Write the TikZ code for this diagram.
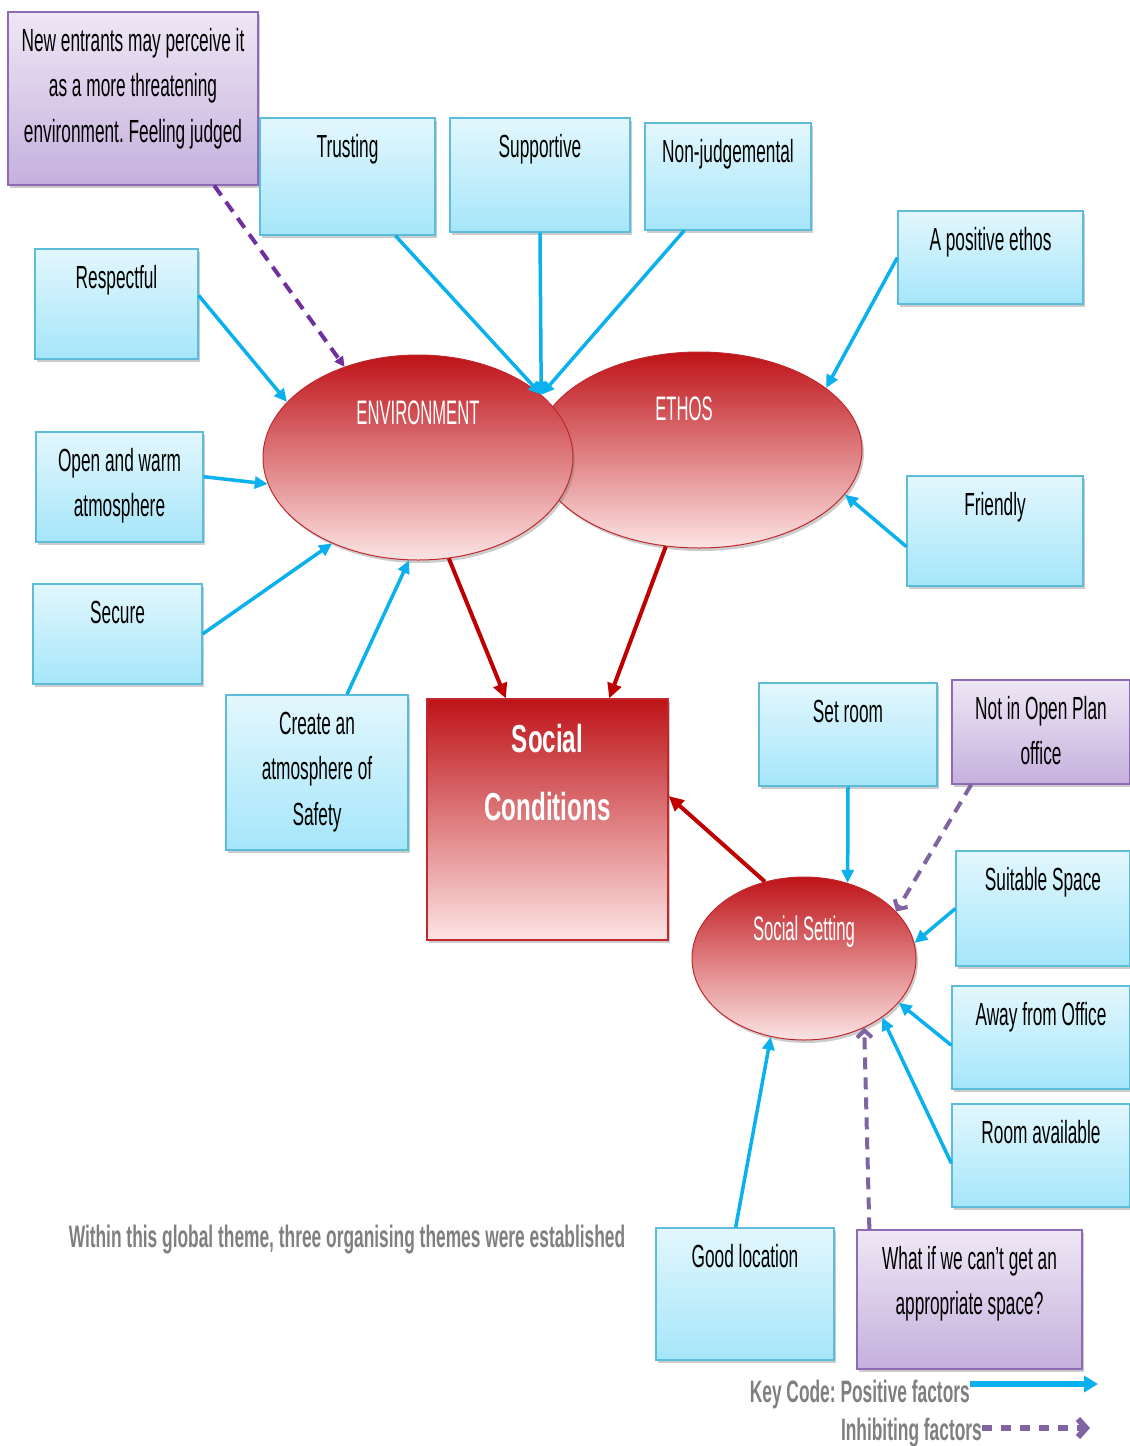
\documentclass[tikz,border=0pt]{standalone}
\usepackage{fontspec}
\setmainfont{Liberation Sans}
\newfontfamily\boxfont[FakeStretch=0.54]{Liberation Sans}
\newfontfamily\ellfont[FakeStretch=0.49]{Liberation Sans}
\newfontfamily\headfont[FakeStretch=0.62]{Liberation Sans}
\newfontfamily\keyfont[FakeStretch=0.56]{Liberation Sans}
\usetikzlibrary{shapes.geometric,shadows,arrows.meta}
\frenchspacing

\definecolor{cyanTop}{HTML}{E3F7FD}
\definecolor{cyanBot}{HTML}{A5E6FA}
\definecolor{cyanEdge}{HTML}{5DBCD8}
\definecolor{purTop}{HTML}{EEE7F5}
\definecolor{purBot}{HTML}{C5B0DD}
\definecolor{purEdge}{HTML}{8E6BB5}
\definecolor{redTop}{HTML}{BE1318}
\definecolor{redMid}{HTML}{DB8A8C}
\definecolor{redBot}{HTML}{FDE4E4}
\definecolor{redEdge}{HTML}{C0282C}
\definecolor{posArrow}{HTML}{0BB0EE}
\definecolor{linkArrow}{HTML}{C00000}
\definecolor{negDark}{HTML}{7030A0}
\definecolor{negLight}{HTML}{8064A2}
\definecolor{keyGray}{HTML}{7F7F7F}

\begin{document}
\begin{tikzpicture}[x=1pt,y=-1pt,
  boxshadow/.style={drop shadow={shadow xshift=2pt,shadow yshift=-3pt,opacity=0.4}},
  cbox/.style={draw=cyanEdge,line width=1.2pt,top color=cyanTop,bottom color=cyanBot,
    inner sep=0pt,boxshadow},
  pbox/.style={draw=purEdge,line width=1.2pt,top color=purTop,bottom color=purBot,
    inner sep=0pt,boxshadow},
  rbox/.style={draw=redEdge,line width=1.2pt,top color=redTop,middle color=redMid,bottom color=redBot,
    inner sep=0pt,boxshadow},
  btext/.style={font=\boxfont\fontsize{32}{45.5}\selectfont,align=center,
    inner sep=0pt,anchor=north,text=black},
  redell/.style={ellipse,draw=redEdge,line width=1pt,top color=redTop,middle color=redMid,bottom color=redBot,
    inner sep=0pt,boxshadow},
  etext/.style={font=\ellfont\fontsize{34}{40}\selectfont,text=white,inner sep=0pt,anchor=base},
  htext/.style={font=\headfont\bfseries\fontsize{39}{45}\selectfont,text=white,inner sep=0pt,anchor=base},
  ktext/.style={font=\keyfont\bfseries\fontsize{31}{36}\selectfont,text=keyGray,inner sep=0pt,anchor=base},
  posarrow/.style={draw=posArrow,line width=3.5pt,-{Triangle[length=13pt,width=12pt]}},
  negarrow/.style={draw=negLight,line width=4pt,dash pattern=on 12pt off 8pt,
    -{Straight Barb[length=7pt,width=15pt]}},
  linkarrow/.style={draw=linkArrow,line width=4pt,-{Triangle[length=15pt,width=14pt]}},
]
\useasboundingbox (0,0) rectangle (1130,1446);

% factor boxes
\node[pbox,minimum width=250,minimum height=173] (newe) at (133,98.5) {};
\node[cbox,minimum width=175,minimum height=117] (trust) at (347.5,176.5) {};
\node[cbox,minimum width=180,minimum height=114] (supp) at (540,175) {};
\node[cbox,minimum width=166,minimum height=107] (nonj) at (728,176.5) {};
\node[cbox,minimum width=185,minimum height=93] (posethos) at (990.5,257.5) {};
\node[cbox,minimum width=163,minimum height=110] (resp) at (116.5,304) {};
\node[cbox,minimum width=167,minimum height=110] (open) at (119.5,487) {};
\node[cbox,minimum width=169,minimum height=100] (secure) at (117.5,634) {};
\node[cbox,minimum width=176,minimum height=110] (friend) at (995,531) {};
\node[cbox,minimum width=182,minimum height=155] (create) at (317,772.5) {};
\node[cbox,minimum width=178,minimum height=103] (setroom) at (848,734.5) {};
\node[pbox,minimum width=178,minimum height=104] (notopen) at (1041,732) {};
\node[cbox,minimum width=174,minimum height=115] (suit) at (1043,908.5) {};
\node[cbox,minimum width=178,minimum height=103] (away) at (1041,1037.5) {};
\node[cbox,minimum width=178,minimum height=103] (room) at (1041,1155.5) {};
\node[cbox,minimum width=178,minimum height=132] (good) at (745,1294) {};
\node[pbox,minimum width=225,minimum height=139] (whatif) at (969.5,1299.5) {};

% box labels
\node[btext] (newe-t) at ([yshift=-8pt]newe.north) {\strut New entrants may perceive it\\as a more threatening\\environment. Feeling judged};
\node[btext] (trust-t) at ([yshift=-8pt]trust.north) {\strut Trusting};
\node[btext] (supp-t) at ([yshift=-8pt]supp.north) {\strut Supportive};
\node[btext] (nonj-t) at ([yshift=-8pt]nonj.north) {\strut Non-judgemental};
\node[btext] (posethos-t) at ([yshift=-8pt]posethos.north) {\strut A positive ethos};
\node[btext] (resp-t) at ([yshift=-8pt]resp.north) {\strut Respectful};
\node[btext] (open-t) at ([yshift=-8pt]open.north) {\strut Open and warm\\atmosphere};
\node[btext] (secure-t) at ([yshift=-8pt]secure.north) {\strut Secure};
\node[btext] (friend-t) at ([yshift=-8pt]friend.north) {\strut Friendly};
\node[btext] (create-t) at ([yshift=-8pt]create.north) {\strut Create an\\atmosphere of\\Safety};
\node[btext] (setroom-t) at ([yshift=-8pt]setroom.north) {\strut Set room};
\node[btext] (notopen-t) at ([yshift=-8pt]notopen.north) {\strut Not in Open Plan\\office};
\node[btext] (suit-t) at ([yshift=-8pt]suit.north) {\strut Suitable Space};
\node[btext] (away-t) at ([yshift=-8pt]away.north) {\strut Away from Office};
\node[btext] (room-t) at ([yshift=-8pt]room.north) {\strut Room available};
\node[btext] (good-t) at ([yshift=-8pt]good.north) {\strut Good location};
\node[btext] (whatif-t) at ([yshift=-8pt]whatif.north) {\strut What if we can’t get an\\appropriate space?};

% organising themes
\node[redell,minimum width=326,minimum height=196] (ethos) at (699,450) {};
\node[redell,minimum width=310,minimum height=205] (env) at (418,457.5) {};
\node[redell,minimum width=224,minimum height=163] (sset) at (804,958.5) {};
\node[etext] (env-t) at (418,424) {ENVIRONMENT};
\node[etext] (ethos-t) at (684,420) {ETHOS};
\node[etext] (sset-t) at (804,940) {Social Setting};

% global theme
\node[rbox,minimum width=241,minimum height=241] (soc) at (547.5,819.5) {};
\node[htext] (soc-t1) at (547.5,752) {Social};
\node[htext] (soc-t2) at (547.5,820) {Conditions};

% positive factors
\coordinate (meet) at (env.27);
\draw[posarrow] (trust.309) -- (meet);
\draw[posarrow] (supp.south) -- (meet);
\draw[posarrow] (nonj.231) -- (meet);
\draw[posarrow] (posethos.west) -- (ethos.26);
\draw[posarrow] (resp.6) -- (env.157);
\draw[posarrow] (open.7) -- (env.190);
\draw[posarrow] (secure.east) -- (env.225);
\draw[posarrow] (create.69) -- (env.265);
\draw[posarrow] (friend.190) -- (ethos.343);
\draw[posarrow] (setroom.south) -- (sset.60);
\draw[posarrow] (suit.west) -- (sset.8);
\draw[posarrow] (away.185) -- (sset.335);
\draw[posarrow] (room.185) -- (sset.323);
\draw[posarrow] (good.98) -- (sset.247);

% inhibiting factors
\draw[negarrow,draw=negDark,-{Triangle[length=10pt,width=10pt]}] (newe.313) -- (env.129);
\draw[negarrow] (notopen.217) -- (sset.27);
\draw[negarrow] (whatif.145) -- (sset.311);

% organising themes feed the global theme
\draw[linkarrow] (env.287) -- (soc.109);
\draw[linkarrow] (ethos.251) -- (soc.63);
\draw[linkarrow] (sset.117) -- (soc.11);

% caption and key
\node[ktext] (caption) at (347,1247) {Within this global theme, three organising themes were established};
\node[ktext,anchor=base east] (keypos) at (970,1402) {Key Code: Positive factors};
\node[ktext,anchor=base east] (keyneg) at (982,1440) {Inhibiting factors};
\coordinate (keypos-end) at (1098,1384);
\coordinate (keyneg-end) at (1090,1428);
\draw[draw=posArrow,line width=6pt,-{Triangle[length=14pt,width=16pt]}] (keypos.east |- keypos-end) -- (keypos-end);
\draw[draw=negLight,line width=6pt,dash pattern=on 10pt off 9pt,-{Straight Barb[length=8pt,width=18pt]}] (keyneg.east |- keyneg-end) -- (keyneg-end);
\end{tikzpicture}
\end{document}
